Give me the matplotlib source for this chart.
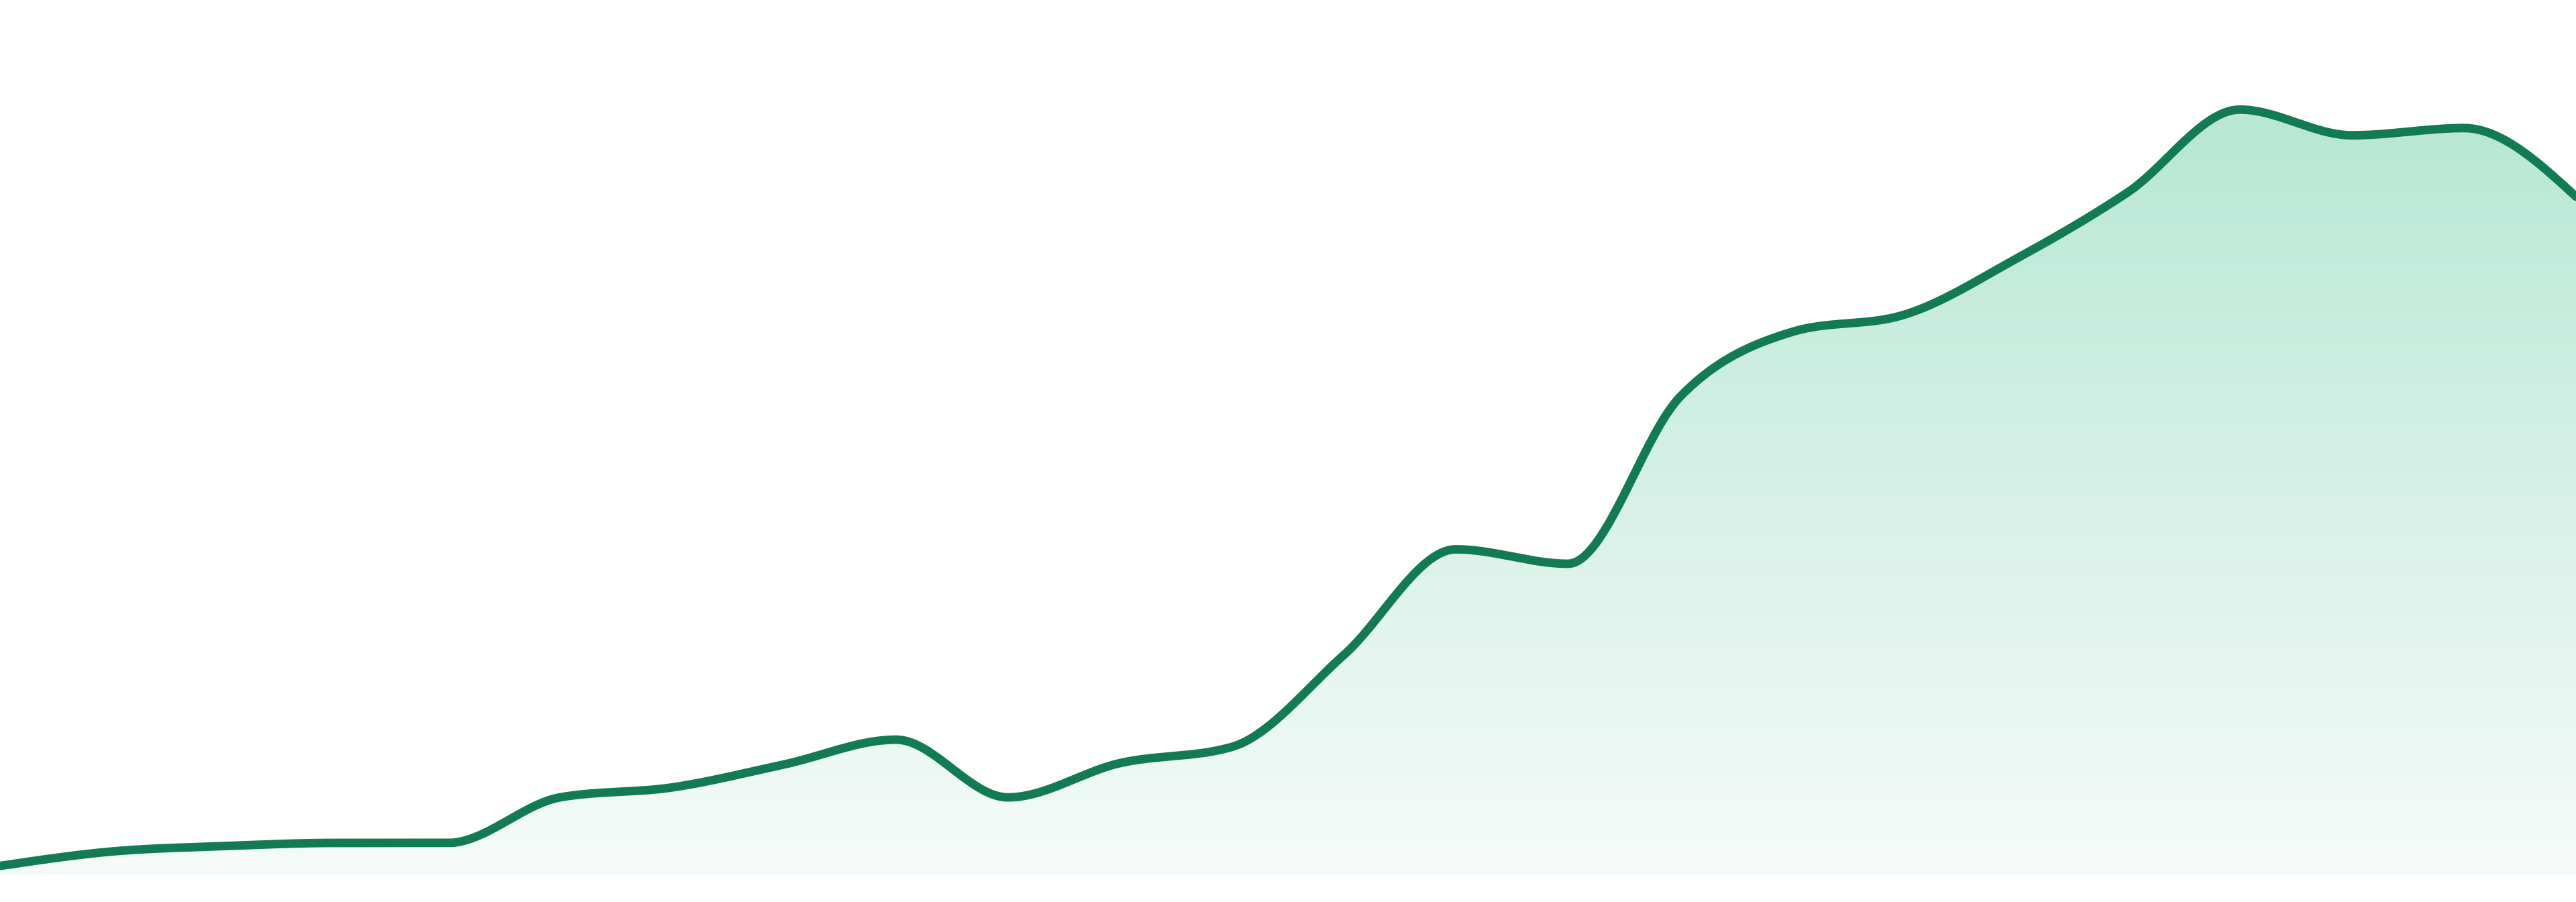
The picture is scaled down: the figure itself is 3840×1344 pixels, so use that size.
import numpy as np
import matplotlib
matplotlib.use("Agg")
import matplotlib.pyplot as plt
from matplotlib.colors import LinearSegmentedColormap

# price-like series, 24 evenly spaced samples
x_idx = list(range(24))
values = [4.0, 5.6, 6.2, 6.55, 6.55, 11.6, 12.7, 15.25, 18.0, 11.6, 15.4, 17.2,
          27.4, 39.1, 37.5, 56.0, 63.2, 65.1, 71.3, 78.7, 87.85, 85.0, 85.8, 78.2]
baseline = 3.0

line_color = "#127b53"
fill_top = "#b7e7d5"
fill_bottom = "#f6fbf9"


def monotone_x(xs, ys, n=40):
    # same idea as d3.curveMonotoneX (Steffen)
    xs = np.asarray(xs, float)
    ys = np.asarray(ys, float)
    h = np.diff(xs)
    s = np.diff(ys) / h
    m = np.zeros_like(ys)
    for i in range(1, len(ys) - 1):
        p = (s[i - 1] * h[i] + s[i] * h[i - 1]) / (h[i - 1] + h[i])
        m[i] = (np.sign(s[i - 1]) + np.sign(s[i])) * min(abs(s[i - 1]), abs(s[i]), 0.5 * abs(p))
    m[0] = (3 * s[0] - m[1]) / 2
    m[-1] = (3 * s[-1] - m[-2]) / 2
    px, py = [], []
    for i in range(len(xs) - 1):
        t = np.linspace(0, 1, n, endpoint=False)
        h00 = 2 * t**3 - 3 * t**2 + 1
        h10 = t**3 - 2 * t**2 + t
        h01 = -2 * t**3 + 3 * t**2
        h11 = t**3 - t**2
        px.append(xs[i] + t * h[i])
        py.append(h00 * ys[i] + h10 * h[i] * m[i] + h01 * ys[i + 1] + h11 * h[i] * m[i + 1])
    px.append([xs[-1]])
    py.append([ys[-1]])
    return np.concatenate(px), np.concatenate(py)


sx, sy = monotone_x(x_idx, values)

fig = plt.figure(figsize=(19.2, 6.72), dpi=200)
ax = fig.add_axes([0, 0, 1, 1])
ax.set_xlim(x_idx[0], x_idx[-1])
ax.set_ylim(0, 100)
ax.axis("off")

# gradient area under the line
poly = ax.fill_between(sx, sy, baseline, color="none", lw=0)
cmap = LinearSegmentedColormap.from_list("g", [fill_bottom, fill_top])
top = max(values)
grad = np.linspace(0, 1, 256).reshape(-1, 1)
img = ax.imshow(grad, cmap=cmap, aspect="auto", origin="lower",
                extent=[x_idx[0], x_idx[-1], baseline, top], zorder=1)
path = poly.get_paths()[0]
img.set_clip_path(path, transform=ax.transData)

ax.plot(sx, sy, color=line_color, lw=4.6, solid_capstyle="round", zorder=3)

fig.savefig("out.png", dpi=200, facecolor="white")
